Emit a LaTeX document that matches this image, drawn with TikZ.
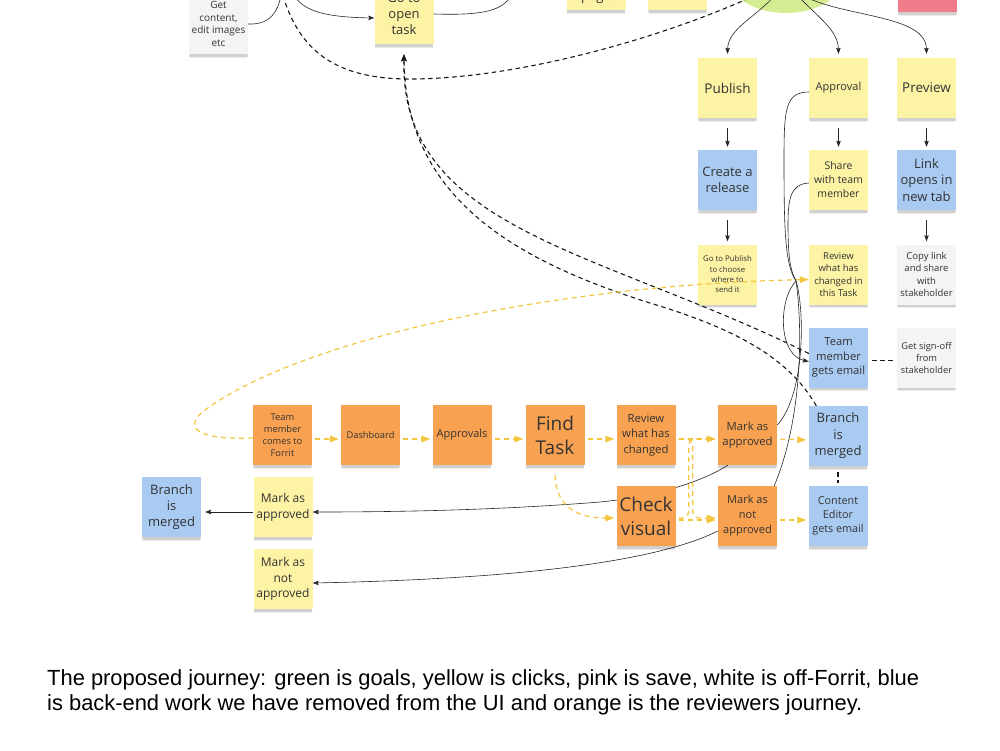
\documentclass[tikz,border=0pt]{standalone}
\usepackage{fontspec}
\setmainfont{Open Sans}
\newfontfamily\capfont{Liberation Sans}
\usetikzlibrary{arrows.meta,shapes.geometric,shadows}
\definecolor{cyellow}{HTML}{FCF3A4}
\definecolor{cblue}{HTML}{A9CBF2}
\definecolor{corange}{HTML}{F8A150}
\definecolor{cwhite}{HTML}{F3F4F6}
\definecolor{cgreen}{HTML}{D5EC92}
\definecolor{cpink}{HTML}{EF7B8B}
\definecolor{dyellow}{HTML}{F4C63D}
\definecolor{ctext}{HTML}{333333}
\newcommand\fsz[2]{\fontsize{#1}{#2}\selectfont}
\begin{document}
\begin{tikzpicture}[x=1pt,y=-1pt,
 card/.style={rectangle,minimum width=59pt,minimum height=60pt,inner sep=0pt,align=center,text=ctext,
   drop shadow={shadow xshift=0pt,shadow yshift=-5pt,shadow scale=0.97,opacity=0.07,fill=black},
   drop shadow={shadow xshift=0pt,shadow yshift=-3pt,shadow scale=0.99,opacity=0.12,fill=black}},
 yel/.style={card,fill=cyellow},
 blu/.style={card,fill=cblue},
 ora/.style={card,fill=corange},
 wht/.style={card,fill=cwhite},
 pnk/.style={card,fill=cpink},
 thinline/.style={draw=black!85,line width=0.6pt},
 thinarrow/.style={thinline,-{Stealth[length=6pt,width=4.5pt,inset=1pt]}},
 bdash/.style={draw=black!90,line width=1.1pt,dash pattern=on 4.5pt off 3.5pt},
 btip/.style={-{Stealth[length=7pt,width=5.5pt,inset=1pt]}},
 ydash/.style={draw=dyellow,line width=1.2pt,dash pattern=on 5pt off 4pt},
 ytip/.style={-{Triangle[length=9pt,width=6.5pt]}},
]
\useasboundingbox (0,0) rectangle (1000,750);
\fill[white] (0,0) rectangle (1000,750);
\clip (0,0) rectangle (1000,750);

% ---- top (cut off) ----
\node[wht,font=\fsz{10}{12.7}] (getc) at (218.5,24) {Get\\content,\\edit images\\etc};
\node[yel,font=\fsz{13}{16}] (goto) at (404,14) {Go to\\open\\task};
\node[yel] (pg1) at (596,-20) {};
\node[font=\fsz{13}{16},text=ctext,anchor=base] (pg1t) at (596,0.5) {page};
\node[yel] (pg2) at (677.5,-20) {};
\node[ellipse,fill=cgreen,minimum width=110pt,minimum height=65pt,inner sep=0pt] (ell) at (786,-19.5) {};
\node[pnk] (pink) at (927.5,-18) {};

% ---- right columns ----
\node[yel,font=\fsz{13.5}{16}] (pub) at (727.5,88) {Publish};
\node[yel,font=\fsz{11}{14}] (appr) at (838.5,88) {Approval};
\node[yel,font=\fsz{13.5}{16}] (prev) at (926.5,88) {Preview};
\node[blu,font=\fsz{13}{16.5}] (cre) at (727.5,180) {Create a\\release};
\node[yel,font=\fsz{10.5}{14}] (share) at (838.5,180) {Share\\with team\\member};
\node[blu,font=\fsz{13}{16.5}] (link) at (926.5,180) {Link\\opens in\\new tab};
\node[yel,font=\fsz{7.8}{10.3}] (gtp) at (727.5,274.5) {Go to Publish\\to choose\\where to\\send it};
\node[yel,font=\fsz{9.5}{12.3}] (rvt) at (838.5,274.5) {Review\\what has\\changed in\\this Task};
\node[wht,font=\fsz{9.5}{12.5}] (copy) at (926.5,274.5) {Copy link\\and share\\with\\stakeholder};
\node[blu,font=\fsz{11.2}{14.5}] (tme) at (838.5,357.5) {Team\\member\\gets email};
\node[wht,font=\fsz{9.3}{12}] (gso) at (926.5,357.5) {Get sign-off\\from\\stakeholder};
\node[blu,font=\fsz{13}{16.5}] (brm) at (838,436) {Branch\\is\\merged};
\node[blu,font=\fsz{10.8}{14}] (ced) at (838,516) {Content\\Editor\\gets email};

% ---- orange journey ----
\node[ora,font=\fsz{9.3}{12}] (tc) at (282.5,435) {Team\\member\\comes to\\Forrit};
\node[ora,font=\fsz{9.3}{12}] (dash) at (370.5,435) {Dashboard};
\node[ora,font=\fsz{11}{14}] (apps) at (462,435) {Approvals};
\node[ora,font=\fsz{19}{24}] (ft) at (555,435) {Find\\Task};
\node[ora,font=\fsz{11.3}{15.5}] (rwc) at (646,435) {Review\\what has\\changed};
\node[ora,font=\fsz{11.3}{15}] (mao) at (747.5,435) {Mark as\\approved};
\node[ora,font=\fsz{11}{15}] (mna) at (747.5,516) {Mark as\\not\\approved};
\node[yel,font=\fsz{12}{16}] (myap) at (283,507) {Mark as\\approved};
\node[yel,font=\fsz{12}{15.5}] (mynp) at (283,579) {Mark as\\not\\approved};
\node[blu,font=\fsz{13}{16}] (bml) at (171.5,507) {Branch\\is\\merged};

% line passing behind "Check visual"
\draw[thinarrow] ([xshift=10pt]mao.south west) .. controls (705,480) and (660,496) .. (600,502)
   .. controls (500,510) and (400,512) .. ([yshift=-5pt]myap.east);
\node[ora,font=\fsz{19}{24}] (cvis) at (646,516) {Check\\visual};

% ---- top connectors ----
\coordinate (offA) at (283,-20);
\coordinate (offB) at (290,-20);
\coordinate (offC) at (516,-20);
\coordinate (offD) at (279,-20);
\draw[thinline] (getc.east) .. controls (272,25) and (281,10) .. (offA);
\draw[thinarrow] (offB) .. controls (292,10) and (320,17) .. ([yshift=-4pt]goto.west);
\draw[thinline] (goto.east) .. controls (495,16) and (512,8) .. (offC);
\draw[bdash] (offD) .. controls (295,55) and (340,79) .. (410,79)
   .. controls (520,79) and (680,35) .. (ell.center);

\draw[thinarrow] (ell.center) .. controls (765,15) and (728,25) .. ([yshift=4pt]pub.north);
\draw[thinarrow] (ell.center) .. controls (805,10) and (838,25) .. ([yshift=4pt]appr.north);
\draw[thinarrow] (ell.center) .. controls (810,20) and (926,8) .. ([yshift=4pt]prev.north);

% ---- column arrows ----
\draw[thinarrow] ([yshift=-10pt]pub.south) -- ([yshift=3pt]cre.north);
\draw[thinarrow] ([yshift=-10pt]appr.south) -- ([yshift=3pt]share.north);
\draw[thinarrow] ([yshift=-10pt]prev.south) -- ([yshift=3pt]link.north);
\draw[thinarrow] ([yshift=-10pt]cre.south) -- ([yshift=3pt]gtp.north);
\draw[thinarrow] ([yshift=-10pt]link.south) -- ([yshift=3pt]copy.north);

% ---- dashed links ----
\draw[bdash] ([xshift=4pt,yshift=-3pt]tme.east) -- ([xshift=-2pt,yshift=-3pt]gso.west);
\draw[bdash] ([yshift=-6pt]brm.south) -- ([yshift=3pt]ced.north);
\draw[bdash,btip] ([yshift=4pt]tme.west) .. controls (600,250) and (400,230) .. ([yshift=-10pt]goto.south);
\draw[bdash,btip] ([xshift=8pt]brm.north west) .. controls (790,360) and (740,330) .. (650,303)
   .. controls (520,262) and (405,200) .. ([yshift=-10pt]goto.south);

% ---- bundle of thin lines ----
\coordinate (cv) at (796,281);
\draw[thinline] ([yshift=-4pt]appr.west) .. controls (785,92) and (784,110) .. (784,160)
   .. controls (784,230) and (785,265) .. (cv)
   .. controls (805,310) and (805,395) .. ([yshift=10pt]mao.east);
\draw[thinline] ([yshift=-3pt]share.west) .. controls (790,184) and (788,200) .. (788,225)
   .. controls (788,255) and (790,270) .. (cv)
   .. controls (803,330) and (802,420) .. ([xshift=-3pt]mna.north east);
\draw[thinarrow] (cv) .. controls (778,300) and (778,355) .. ([yshift=-4pt]tme.west);

% ---- yellow dashed ----
\draw[ydash,ytip] ([yshift=-3pt]tc.west) .. controls (190,440) and (185,425) .. (205,410)
   .. controls (300,340) and (550,285) .. ([yshift=-5pt]rvt.west);
\foreach \a/\b in {tc/dash,dash/apps,apps/ft,ft/rwc,rwc/mao,mao/brm,cvis/mna,mna/ced}{
  \draw[ydash,ytip,shorten <=3pt,shorten >=2pt] ([yshift=-4pt]\a.east) -- ([yshift=-4pt]\b.west);
}
\draw[ydash,ytip,rounded corners=7pt,shorten >=2pt] ([xshift=3pt,yshift=-4pt]rwc.east) -- ++(14,0) |- ([yshift=-2pt]mna.west);
\draw[ydash,ytip,rounded corners=7pt,shorten >=2pt] ([xshift=3pt,yshift=-2pt]cvis.east) -- ++(10,0) |- ([yshift=-4pt]mao.west);
\draw[ydash,ytip,shorten >=2pt] ([yshift=-10pt]ft.south) .. controls (556,505) and (575,518) .. ([yshift=-2pt]cvis.west);

% ---- results ----
\draw[thinarrow] ([yshift=-5pt]myap.west) -- ([xshift=4pt,yshift=-5pt]bml.east);
\draw[thinarrow] ([yshift=-15pt]mna.west) .. controls (670,555) and (560,578) .. ([yshift=-4pt]mynp.east);

% ---- caption ----
\node[anchor=base west,inner sep=0pt,font=\capfont\fsz{21.9}{24}] (cap1) at (47,685)
  {The proposed journey: green is goals, yellow is clicks, pink is save, white is off-Forrit, blue};
\node[anchor=base west,inner sep=0pt,font=\capfont\fsz{21.9}{24}] (cap2) at (47,710)
  {is back-end work we have removed from the UI and orange is the reviewers journey.};
\end{tikzpicture}
\end{document}
